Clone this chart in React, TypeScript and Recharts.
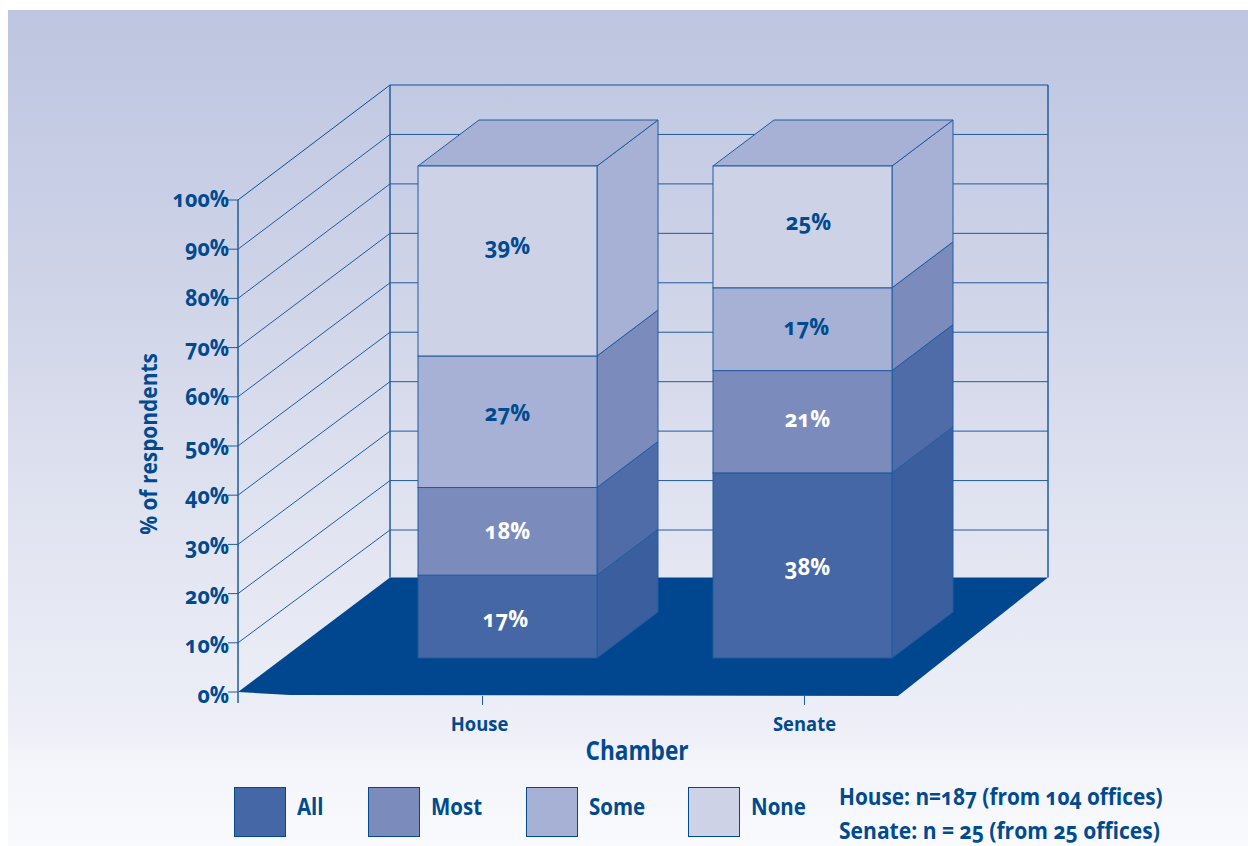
import React from "react";
import { BarChart, Bar, XAxis, YAxis, CartesianGrid, LabelList, Legend } from "recharts";

const chambers = ["House", "Senate"];
const allShare = [17, 38];
const mostShare = [18, 21];
const someShare = [27, 17];
const noneShare = [39, 25];
const yTicks = [0, 0.1, 0.2, 0.3, 0.4, 0.5, 0.6, 0.7, 0.8, 0.9, 1];
const sampleNotes = ["House: n=187 (from 104 offices)", "Senate: n = 25 (from 25 offices)"];

const rows = chambers.map((chamber, i) => ({
  chamber,
  All: allShare[i],
  Most: mostShare[i],
  Some: someShare[i],
  None: noneShare[i],
}));

const INK = "#004a90";
const EDGE = "#1f5ca0";
const FLOOR = "#00478f";
const TEXT_STYLE: React.CSSProperties = {
  fontFamily: "'Open Sans', sans-serif",
  fontWeight: 700,
  fontVariantNumeric: "oldstyle-nums",
};

// dx, dy of the value labels from the segment centre, one pair per chamber
const series = [
  { key: "All", front: "#4567a5", side: "#3a5e9e", label: "#ffffff", nudge: [[-2, 1], [5, 0]] },
  { key: "Most", front: "#7a8bbc", side: "#4f6ca8", label: "#ffffff", nudge: [[0, -2], [5, -4]] },
  { key: "Some", front: "#a7b1d5", side: "#7a8bbc", label: INK, nudge: [[0, -10], [4, -4]] },
  { key: "None", front: "#cdd2e6", side: "#a7b1d5", label: INK, nudge: [[0, -16], [6, -6]] },
];

// plot box is the front plane of the bars
const PLOT_TOP = 166;
const PLOT_BOTTOM = 658;
const PLOT_LEFT = 360;
const PLOT_RIGHT = 950;

// how far the bar depth and the room walls sit from that plane
const DEPTH_X = 61;
const DEPTH_Y = 46;
const FRONT_WALL_X = 238;
const FRONT_WALL_DY = 34;
const BACK_WALL_X = 390;
const BACK_WALL_RIGHT = 1048;
const BACK_WALL_DY = -81;
const BACK_WALL_STRETCH = 1.005;
const FLOOR_BACK_Y = 577.5;

const categoryNudge: Record<string, { tick: number; text: number }> = {
  House: { tick: -25, text: -28 },
  Senate: { tick: 2, text: 2 },
};
const legendX = [234, 368, 526, 688];
const noteSqueeze = [0.904, 0.916];

// narrower letterforms than the installed font offers, at the same height
function NarrowText({ x, y, squeeze, rotate = 0, size, color = INK, anchor = "middle", children }: any) {
  return (
    <text
      transform={`translate(${x},${y}) rotate(${rotate}) scale(${squeeze},1)`}
      textAnchor={anchor}
      dominantBaseline="central"
      fill={color}
      fontSize={size}
      style={TEXT_STYLE}
    >
      {children}
    </text>
  );
}

function WallLine(props: any) {
  const y = props.y1;
  const front = y + FRONT_WALL_DY;
  const back = PLOT_TOP + BACK_WALL_DY + (y - PLOT_TOP) * BACK_WALL_STRETCH;
  const isFloor = Math.abs(y - PLOT_BOTTOM) < 1;
  const isTop = Math.abs(y - PLOT_TOP) < 1;
  return (
    <g key={props.key}>
      {isFloor && (
        <polygon
          points={`${FRONT_WALL_X},${front} ${BACK_WALL_X},${FLOOR_BACK_Y} ${BACK_WALL_RIGHT},${FLOOR_BACK_Y} 898,696 290,695`}
          fill={FLOOR}
        />
      )}
      {isTop && (
        <g stroke={EDGE} strokeWidth={1.5}>
          <line x1={FRONT_WALL_X} y1={front} x2={FRONT_WALL_X} y2={PLOT_BOTTOM + FRONT_WALL_DY + 11} />
          <line x1={BACK_WALL_X} y1={back} x2={BACK_WALL_X} y2={FLOOR_BACK_Y} />
          <line x1={BACK_WALL_RIGHT} y1={back} x2={BACK_WALL_RIGHT} y2={FLOOR_BACK_Y} />
        </g>
      )}
      {!isFloor && (
        <polyline
          points={`${FRONT_WALL_X},${front} ${BACK_WALL_X},${back} ${BACK_WALL_RIGHT},${back}`}
          fill="none"
          stroke={isTop ? "#0b5298" : EDGE}
          strokeWidth={1}
        />
      )}
      <line x1={FRONT_WALL_X - 10} y1={front} x2={FRONT_WALL_X} y2={front} stroke={EDGE} strokeWidth={1} />
    </g>
  );
}

function makeBlock(side: string, isTopSegment: boolean) {
  return function Block(props: any) {
    const { x, y, width, height, fill } = props;
    const r = x + width;
    const b = y + height;
    return (
      <g stroke={EDGE} strokeWidth={1}>
        <polygon
          points={`${r},${y} ${r + DEPTH_X},${y - DEPTH_Y} ${r + DEPTH_X},${b - DEPTH_Y} ${r},${b}`}
          fill={side}
        />
        {isTopSegment && (
          <polygon
            points={`${x},${y} ${x + DEPTH_X},${y - DEPTH_Y} ${r + DEPTH_X},${y - DEPTH_Y} ${r},${y}`}
            fill={side}
          />
        )}
        <rect x={x} y={y} width={width} height={height} fill={fill} />
      </g>
    );
  };
}

function makeValueLabel(color: string, nudge: number[][]) {
  return function ValueLabel({ x, y, width, height, value, index }: any) {
    const [dx, dy] = nudge[index];
    return (
      <NarrowText x={x + width / 2 + dx} y={y + height / 2 + dy} squeeze={0.92} size={24} color={color}>
        {value}%
      </NarrowText>
    );
  };
}

function PercentTick({ y, payload }: any) {
  const drift = (1 - payload.value) * 4 - 2;
  return (
    <NarrowText x={FRONT_WALL_X - 9} y={y + FRONT_WALL_DY + drift} squeeze={0.93} size={23} anchor="end">
      {Math.round(payload.value * 100)}%
    </NarrowText>
  );
}

function ChamberTick({ x, payload }: any) {
  const nudge = categoryNudge[payload.value];
  return (
    <g>
      <line x1={x + nudge.tick} y1={696} x2={x + nudge.tick} y2={705} stroke={EDGE} strokeWidth={1} />
      <NarrowText x={x + nudge.text} y={723} squeeze={0.92} size={20}>
        {payload.value}
      </NarrowText>
    </g>
  );
}

function ChamberTitle({ viewBox }: any) {
  return (
    <NarrowText x={viewBox.x + viewBox.width / 2 - 18} y={750} squeeze={0.87} size={26}>
      Chamber
    </NarrowText>
  );
}

function ShareTitle({ viewBox }: any) {
  return (
    <NarrowText x={148} y={viewBox.y + viewBox.height / 2 + 32} rotate={-90} squeeze={0.91} size={23}>
      % of respondents
    </NarrowText>
  );
}

function LegendRow({ payload }: any) {
  return (
    <div style={{ position: "relative", width: 1248, height: 50 }}>
      {(payload || []).map((item: any, i: number) => (
        <div key={item.value}>
          <div
            style={{
              position: "absolute",
              left: legendX[i],
              top: 0,
              width: 50,
              height: 48,
              background: item.color,
              border: `1px solid ${INK}`,
            }}
          />
          <div
            style={{
              ...TEXT_STYLE,
              position: "absolute",
              left: legendX[i] + 63,
              top: 2,
              fontSize: 23,
              color: INK,
              lineHeight: "34px",
              transform: "scaleX(0.89)",
              transformOrigin: "left center",
            }}
          >
            {item.value}
          </div>
        </div>
      ))}
    </div>
  );
}

export default function App() {
  return (
    <div style={{ position: "absolute", left: 0, top: 0, width: 1248, height: 846, overflow: "hidden", background: "#fff" }}>
      <div
        style={{
          position: "absolute",
          left: 8,
          top: 10,
          width: 1240,
          height: 836,
          background:
            "linear-gradient(180deg, #bdc5e0 0%, #cfd4e8 34%, #e2e5f1 63%, #e9ebf5 78%, #eff0f8 88%, #f3f4fa 88.6%, #f9fafd 100%)",
        }}
      />
      <div style={{ position: "absolute", left: 0, top: 0 }}>
        <BarChart
          width={1248}
          height={846}
          data={rows}
          stackOffset="expand"
          barSize={179}
          margin={{ top: PLOT_TOP, left: PLOT_LEFT - 60, right: 1248 - PLOT_RIGHT, bottom: 846 - PLOT_BOTTOM - 30 }}
        >
          <CartesianGrid horizontal={WallLine} vertical={false} horizontalValues={yTicks} />
          <XAxis dataKey="chamber" height={30} axisLine={false} tickLine={false} tick={<ChamberTick />} label={<ChamberTitle />} />
          <YAxis
            width={60}
            domain={[0, 1]}
            ticks={yTicks}
            interval={0}
            axisLine={false}
            tickLine={false}
            tick={<PercentTick />}
            label={<ShareTitle />}
          />
          <Legend
            content={<LegendRow />}
            itemSorter={null}
            layout="horizontal"
            verticalAlign="middle"
            wrapperStyle={{ left: 0, top: 787, width: 1248, height: 50 }}
          />
          {series.map((s, i) => (
            <Bar
              key={s.key}
              dataKey={s.key}
              stackId="share"
              fill={s.front}
              isAnimationActive={false}
              shape={makeBlock(s.side, i === series.length - 1)}
            >
              <LabelList dataKey={s.key} content={makeValueLabel(s.label, s.nudge)} />
            </Bar>
          ))}
        </BarChart>
      </div>
      {sampleNotes.map((note, i) => (
        <div
          key={note}
          style={{
            ...TEXT_STYLE,
            position: "absolute",
            left: 839,
            top: 780 + i * 34,
            fontSize: 23,
            lineHeight: "32px",
            color: INK,
            whiteSpace: "nowrap",
            transform: `scaleX(${noteSqueeze[i]})`,
            transformOrigin: "left center",
          }}
        >
          {note}
        </div>
      ))}
    </div>
  );
}
